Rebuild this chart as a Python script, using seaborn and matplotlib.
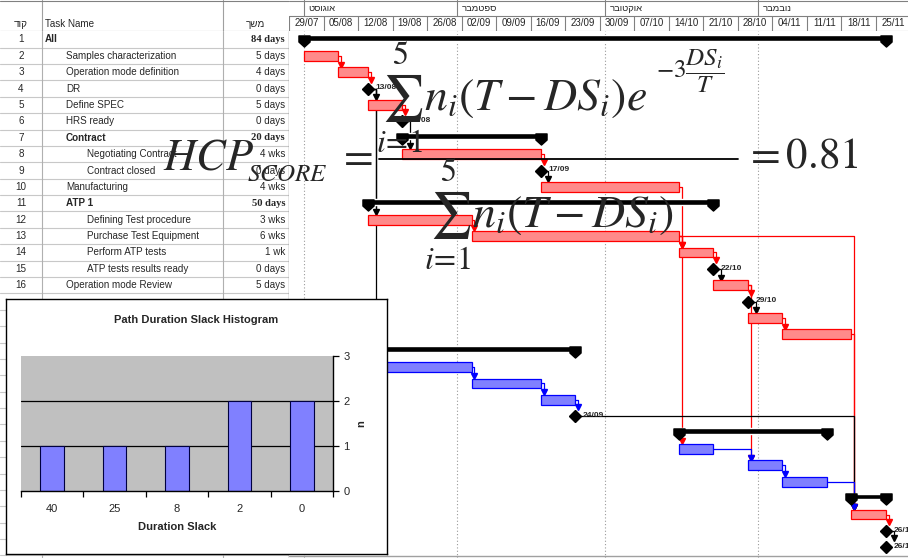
import matplotlib
matplotlib.use("Agg")
import matplotlib.pyplot as plt
from matplotlib.path import Path
from matplotlib.lines import Line2D
import seaborn as sns

sns.set_style("white")
plt.rcParams["font.family"] = ["Liberation Sans", "DejaVu Sans"]
plt.rcParams["mathtext.fontset"] = "stix"

# ---------------- data ----------------
# task table (rows 1-16 visible)
task_names = ["All", "Samples characterization", "Operation mode definition", "DR",
              "Define SPEC", "HRS ready", "Contract", "Negotiating Contract",
              "Contract closed", "Manufacturing", "ATP 1", "Defining Test procedure",
              "Purchase Test Equipment", "Perform ATP tests", "ATP tests results ready",
              "Operation mode Review"]
task_levels = [0, 1, 1, 1, 1, 1, 1, 2, 2, 1, 1, 2, 2, 2, 2, 1]
task_durations = ["84 days", "5 days", "4 days", "0 days", "5 days", "0 days", "20 days",
                  "4 wks", "0 days", "4 wks", "50 days", "3 wks", "6 wks", "1 wk",
                  "0 days", "5 days"]
summary_names = ["All", "Contract", "ATP 1"]
header_labels = ["קוד", "Task Name", "משך"]

# timescale (days counted from 29/07)
week_labels = ["29/07", "05/08", "12/08", "19/08", "26/08", "02/09", "09/09", "16/09",
               "23/09", "30/09", "07/10", "14/10", "21/10", "28/10", "04/11", "11/11",
               "18/11", "25/11"]
month_names = ["אוגוסט", "ספטמבר", "אוקטובר", "נובמבר"]
month_start_days = [3, 34, 64, 95]

# gantt bars
bar_rows = [2, 3, 5, 8, 10, 12, 13, 14, 16, 18, 19, 21, 22, 23, 26, 27, 28, 30]
bar_starts = [3, 10, 16, 23, 51, 16, 37, 79, 86, 93, 100, 16, 37, 51, 79, 93, 100, 114]
bar_ends = [10, 16, 23, 51, 79, 37, 79, 86, 93, 100, 114, 37, 51, 58, 86, 100, 109, 121]
bar_critical = [True] * 11 + [False] * 6 + [True]

summary_rows = [1, 7, 11, 20, 25, 29]
summary_starts = [3, 23, 16, 16, 79, 114]
summary_ends = [121, 51, 86, 58, 109, 121]

milestone_rows = [4, 6, 9, 15, 17, 24, 31, 32]
milestone_days = [16, 23, 51, 86, 93, 58, 121, 121]
milestone_labels = ["13/08", "20/08", "17/09", "22/10", "29/10", "24/09", "26/11", "26/11"]

links = [(2, 3), (3, 4), (4, 5), (4, 12), (4, 21), (5, 6), (6, 8), (8, 9), (9, 10),
         (10, 14), (12, 13), (13, 14), (13, 26), (13, 30), (14, 15), (15, 16), (16, 17),
         (16, 27), (17, 18), (18, 19), (19, 30), (21, 22), (22, 23), (23, 24), (24, 30),
         (26, 27), (27, 28), (28, 30), (30, 31), (31, 32)]

# histogram
slack_labels = ["40", "25", "8", "2", "0"]
slack_counts = [1, 1, 1, 2, 2]

# ---------------- layout ----------------
W, H = 908, 558
HEAD = 31.3
ROW0_Y, ROW_H = 39.5, 16.38
GX0, PX_DAY = 289.0, 4.933
RED, PINK = "#ff0000", "#ff8a8a"
BLUE, LBLUE = "#0000ff", "#8080ff"
GRID = "#c8c8c8"


def rect(x0, y0, x1, y1):
    return [x0 / W, 1 - y1 / H, (x1 - x0) / W, (y1 - y0) / H]


def visual(s):
    # matplotlib draws left-to-right, Hebrew needs right-to-left order
    return s[::-1]


def row_at(py):
    return 1 + (py - ROW0_Y) / ROW_H


def ftext(x, y, s, size, **kw):
    # text placed in figure pixels (formula overlay)
    return fig.text(x / W, 1 - y / H, s, fontsize=size, ha="left", va="baseline",
                    zorder=10, **kw)


fig = plt.figure(figsize=(W / 100, H / 100), dpi=100)
fig.patch.set_facecolor("white")
row_lim = (row_at(H), row_at(HEAD))
day_lim = (0, (W - GX0) / PX_DAY)

# table header
head_ax = fig.add_axes(rect(0, 0, GX0, HEAD))
head_ax.set_xlim(0, GX0)
head_ax.set_ylim(HEAD, 0)
head_ax.axis("off")
for x in [42, 223]:
    head_ax.axvline(x, color="#a0a0a0", lw=0.8)
head_ax.axhline(1, color="#808080", lw=0.8)
head_ax.axhline(HEAD - 0.5, color="#808080", lw=0.8)
head_ax.text(21, 24, visual(header_labels[0]), ha="center", va="center", fontsize=7.1)
head_ax.text(45, 24, header_labels[1], ha="left", va="center", fontsize=7.1)
head_ax.text(255, 24, visual(header_labels[2]), ha="center", va="center", fontsize=7.1)

# table body
table_ax = fig.add_axes(rect(0, HEAD, GX0, H))
table_ax.set_xlim(0, GX0)
table_ax.set_ylim(*row_lim)
table_ax.axis("off")
for r in range(1, 34):
    table_ax.axhline(r + 0.5, color=GRID, lw=0.8)
for x in [42, 223]:
    table_ax.axvline(x, color="#b0b0b0", lw=0.8)
table_ax.axvline(GX0 - 0.5, color="#808080", lw=1.0)
for i, (name, lvl, dur) in enumerate(zip(task_names, task_levels, task_durations)):
    r = i + 1
    bold = name in summary_names
    table_ax.text(21, r, str(r), ha="center", va="center", fontsize=7.1)
    table_ax.text(45 + 21 * lvl, r, name, ha="left", va="center", fontsize=7.1,
                  fontweight="bold" if bold else "normal")
    table_ax.text(285, r, dur, ha="right", va="center",
                  fontsize=7.6 if bold else 7.1,
                  fontweight="bold" if bold else "normal",
                  family="Liberation Serif" if bold else "Liberation Sans")

# timescale header
scale_ax = fig.add_axes(rect(GX0, 0, W, HEAD))
scale_ax.set_xlim(*day_lim)
scale_ax.set_ylim(2, 0)
scale_ax.axis("off")
scale_ax.axhline(0.04, color="#808080", lw=0.8)
scale_ax.axhline(1.05, color="#808080", lw=0.8)
scale_ax.axhline(1.97, color="#808080", lw=0.8)
for i, lab in enumerate(week_labels):
    scale_ax.plot([7 * i, 7 * i], [1.05, 2], color="#808080", lw=0.8)
    scale_ax.text(7 * i + 3.5, 1.5, lab, ha="center", va="center", fontsize=7, clip_on=True)
for d, m in zip(month_start_days, month_names):
    scale_ax.plot([d, d], [0, 1.05], color="#808080", lw=0.8)
    scale_ax.text(d + 1.0, 0.55, visual(m), ha="left", va="center", fontsize=6.8)

# gantt chart
ax = fig.add_axes(rect(GX0, HEAD, W, H))
ax.set_xlim(*day_lim)
ax.set_ylim(*row_lim)
ax.axis("off")
for d in month_start_days:
    ax.axvline(d, color="#9a9a9a", lw=0.8, ls=(0, (1, 2)), zorder=0)
ax.axhline(row_lim[0] - 0.15, color="#a0a0a0", lw=1.0)

BAR_H = 0.6
widths = [e - s for s, e in zip(bar_starts, bar_ends)]
ax.barh(bar_rows, widths, left=bar_starts, height=BAR_H,
        color=[PINK if c else LBLUE for c in bar_critical],
        edgecolor=[RED if c else BLUE for c in bar_critical], linewidth=0.9, zorder=3)

cap = Path([(-0.5, 0.5), (0.5, 0.5), (0.5, -0.05), (0.0, -0.5), (-0.5, -0.05), (-0.5, 0.5)],
           [Path.MOVETO, Path.LINETO, Path.LINETO, Path.LINETO, Path.LINETO, Path.CLOSEPOLY])
s_widths = [e - s for s, e in zip(summary_starts, summary_ends)]
ax.barh([r - 0.1 for r in summary_rows], s_widths, left=summary_starts, height=0.36,
        color="black", zorder=3)
ax.plot(summary_starts + summary_ends, [r + 0.08 for r in summary_rows] * 2,
        ls="none", marker=cap, ms=8, color="black", zorder=3)

ax.plot(milestone_days, milestone_rows, ls="none", marker="D", ms=6, color="black", zorder=4)
for d, r, lab in zip(milestone_days, milestone_rows, milestone_labels):
    ax.text(d + 1.5, r - 0.05, lab, ha="left", va="center", fontsize=6,
            fontweight="bold", clip_on=True, zorder=4)

# dependency links
info = {}
for r, s, e, c in zip(bar_rows, bar_starts, bar_ends, bar_critical):
    info[r] = ("task", s, e, c)
for r, s, e in zip(summary_rows, summary_starts, summary_ends):
    info[r] = ("summary", s, e, True)
for r, d in zip(milestone_rows, milestone_days):
    info[r] = ("milestone", d, d, True)

for p, q in links:
    pk, ps, pe, pc = info[p]
    qk, qs, qe, qc = info[q]
    if pk == "milestone":
        color = "black"
        x0 = pe + 1.0
        xt = max(pe + 1.6, qs + 0.6)
    else:
        color = RED if pc else BLUE
        x0 = pe
        xt = max(pe, qs) + 0.6
    q_top = q - (BAR_H / 2 if qk == "task" else 0.38)
    ax.plot([x0, xt, xt], [p, p, q_top - 0.2], color=color, lw=0.9, zorder=2)
    ax.plot(xt, q_top - 0.17, marker="v", ms=5, color=color, zorder=2)

# formula overlay
ftext(163, 170, r"$HCP$", 32)
ftext(247, 181, r"$SCORE$", 18)
ftext(337, 168, r"$=$", 31)
ftext(376, 110, r"$\sum_{i\!=\!1}^{5}n_i\left(T-DS_i\right)e$", 33)
ftext(656, 79, r"$-3\dfrac{DS_i}{T}$", 18)
fig.add_artist(Line2D([379 / W, 738 / W], [1 - 158.5 / H] * 2, color="black", lw=1.3,
                      zorder=10))
ftext(424, 227, r"$\sum_{i\!=\!1}^{5}n_i\left(T-DS_i\right)$", 33)
ftext(744, 168, r"$=0.81$", 31)

# histogram inset
box_ax = fig.add_axes(rect(6, 299, 387, 554), zorder=20)
box_ax.set_facecolor("white")
box_ax.set_xticks([])
box_ax.set_yticks([])
for sp in box_ax.spines.values():
    sp.set_color("black")
    sp.set_linewidth(1.0)
box_ax.text(0.5, 1 - (320 - 299) / 255, "Path Duration Slack Histogram", ha="center",
            va="center", fontsize=8, fontweight="bold", transform=box_ax.transAxes)

hist_ax = fig.add_axes(rect(21, 356, 333, 491), zorder=21)
hist_ax.set_facecolor("#c0c0c0")
for v in [1, 2]:
    hist_ax.axhline(v, color="black", lw=0.9, zorder=0.5)
sns.barplot(x=slack_labels, y=slack_counts, color=LBLUE, saturation=1, width=0.38,
            edgecolor="#000040", linewidth=0.8, ax=hist_ax, zorder=2)
hist_ax.set_xlim(-0.5, 4.5)
hist_ax.set_ylim(0, 3)
hist_ax.set_yticks([0, 1, 2, 3])
hist_ax.yaxis.tick_right()
hist_ax.yaxis.set_label_position("right")
hist_ax.set_xticks([i - 0.5 for i in range(6)], minor=True)
hist_ax.tick_params(axis="x", which="major", length=0, labelsize=8, pad=9)
hist_ax.tick_params(axis="x", which="minor", length=4, width=0.9, color="black",
                    direction="out", bottom=True)
hist_ax.tick_params(axis="y", length=4, width=0.9, color="black", direction="out",
                    labelsize=8, right=True, left=False)
for side in ["left", "top"]:
    hist_ax.spines[side].set_visible(False)
for side in ["bottom", "right"]:
    hist_ax.spines[side].set_color("black")
    hist_ax.spines[side].set_linewidth(1.0)
hist_ax.set_xlabel("Duration Slack", fontsize=8, fontweight="bold", labelpad=6)
hist_ax.set_ylabel("n", fontsize=8, fontweight="bold", labelpad=5)

fig.savefig("out.png", dpi=100)
